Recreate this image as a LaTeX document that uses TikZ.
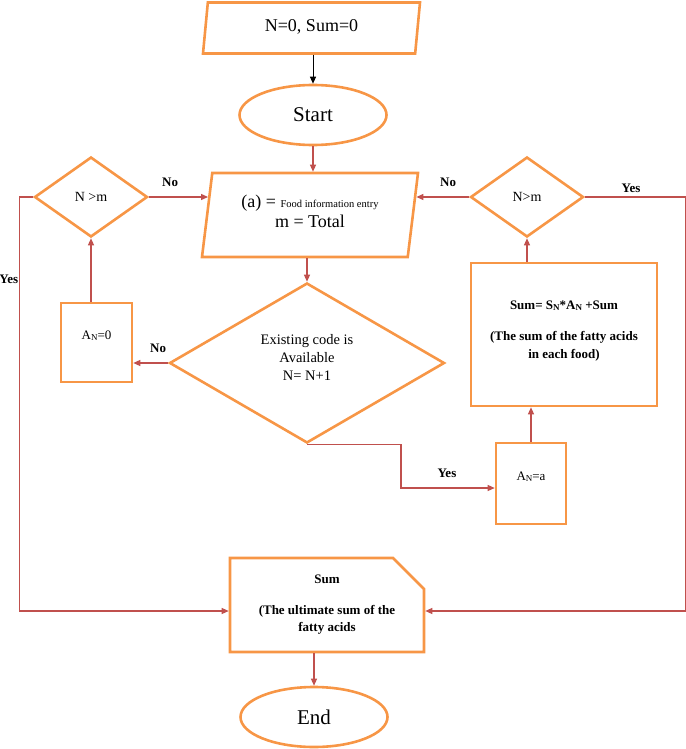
\documentclass[tikz,border=0pt]{standalone}
\usepackage{fontspec}
\setmainfont{Liberation Serif}
\usetikzlibrary{shapes.geometric,shapes.misc,arrows.meta,calc}
\definecolor{flowor}{HTML}{F79646}
\definecolor{flowred}{HTML}{C0504D}
\newcommand{\idx}[1]{\raisebox{-1.2pt}{\fontsize{9}{9}\selectfont #1}}

\begin{document}
\begin{tikzpicture}[x=1pt, y=-1pt,
  shp/.style={draw=flowor, line width=2.6pt, align=center, inner sep=2pt},
  para/.style={shp, trapezium, trapezium left angle=77, trapezium right angle=103, trapezium stretches body},
  dec/.style={shp, diamond, font=\fontsize{14}{17}\selectfont},
  term/.style={shp, ellipse, font=\fontsize{21}{24}\selectfont, minimum width=147pt, minimum height=60pt},
  boxn/.style={shp, rectangle},
  link/.style={flowred, line width=1.2pt, -{Triangle[length=7pt,width=6pt]}},
  lbl/.style={text=black, font=\bfseries\fontsize{13}{15}\selectfont, inner sep=1pt}]
\useasboundingbox (0,0) rectangle (685,749);

% shapes
\node[para, minimum width=217pt, minimum height=51pt, text depth=5pt, font=\fontsize{18}{20}\selectfont] (init) at (311.5,28) {N=0, Sum=0};
\node[term] (start) at (313,115) {Start};
\node[para, minimum width=216pt, minimum height=84pt, font=\fontsize{18}{20}\selectfont] (entry) at (310,215)
  {(a) = {\fontsize{10.5}{12}\selectfont Food information entry}\\ m = Total\\[-12pt]\mbox{}};
\node[dec, minimum width=113pt, minimum height=80pt] (ngtl) at (91,197) {N >m};
\node[dec, minimum width=113pt, minimum height=80pt] (ngtr) at (527,197) {N>m};
\node[dec, minimum width=275pt, minimum height=160pt, font=\fontsize{14.5}{18}\selectfont] (code) at (307,363)
  {Existing code is\\ Available\\ N= N+1\\[-6pt]\mbox{}};
\node[boxn, minimum width=71pt, minimum height=79pt, text depth=15pt, font=\fontsize{13}{15}\selectfont] (an0) at (96.5,342.5) {A\idx{N}=0};
\node[boxn, minimum width=186pt, minimum height=143pt, font=\bfseries\fontsize{13}{18}\selectfont] (sumbox) at (564,334.5)
  {Sum= S\idx{N}*A\idx{N} +Sum\\[13pt] (The sum of the fatty acids\\ in each food)\\[-8pt]\mbox{}};
\node[boxn, minimum width=70pt, minimum height=81pt, text depth=15pt, font=\fontsize{13}{15}\selectfont] (ana) at (531,483.5) {A\idx{N}=a};
\node[shp, chamfered rectangle, chamfered rectangle corners=north east, chamfered rectangle xsep=15pt, chamfered rectangle ysep=16pt,
  minimum width=194pt, minimum height=94pt, font=\bfseries\fontsize{13}{17}\selectfont] (final) at (327,605)
  {\mbox{}\\[-10pt] Sum\\[14pt] (The ultimate sum of the\\ fatty acids};
\node[term] (end) at (314,717) {End};

\coordinate (inl) at ($(entry.top left corner)!0.29!(entry.bottom left corner)$);
\coordinate (inr) at ($(entry.top right corner)!0.29!(entry.bottom right corner)$);

% connectors
\draw[link, black, line width=1pt] (init.south -| start.north) -- (start.north);
\draw[link] (start.south) -- (entry.north -| start.south);
\draw[link] (code.north |- entry.south) -- (code.north);
\draw[link] (ngtl.east) -- node[lbl, above=9pt, pos=0.36] {No} (ngtl.east -| inl);
\draw[link] (ngtr.west) -- node[lbl, above=9pt, pos=0.4] {No} (ngtr.west -| inr);
\draw[link] (code.west) -- node[lbl, above=9pt, pos=0.29] {No} (code.west -| an0.east);
\draw[link] (an0.north -| ngtl.south) -- (ngtl.south);
\draw[link] (code.south) -- ++(94,0) |- node[lbl, above=9pt, pos=0.745] {Yes} ([yshift=-4.5pt]ana.west);
\draw[link] (ana.north) -- (ana.north |- sumbox.south);
\draw[link] (ngtr.south |- sumbox.north) -- (ngtr.south);
\draw[link] (ngtl.west) -- ++(-13.5,0) |- node[lbl, left, pos=0.1] {Yes} ([yshift=-6pt]final.west);
\draw[link] (ngtr.east) -- node[lbl, above=3pt, pos=0.46] {Yes} ++(100.5,0) |- ([yshift=-6pt]final.east);
\draw[link] (final.south -| end.north) -- (end.north);
\end{tikzpicture}
\end{document}
